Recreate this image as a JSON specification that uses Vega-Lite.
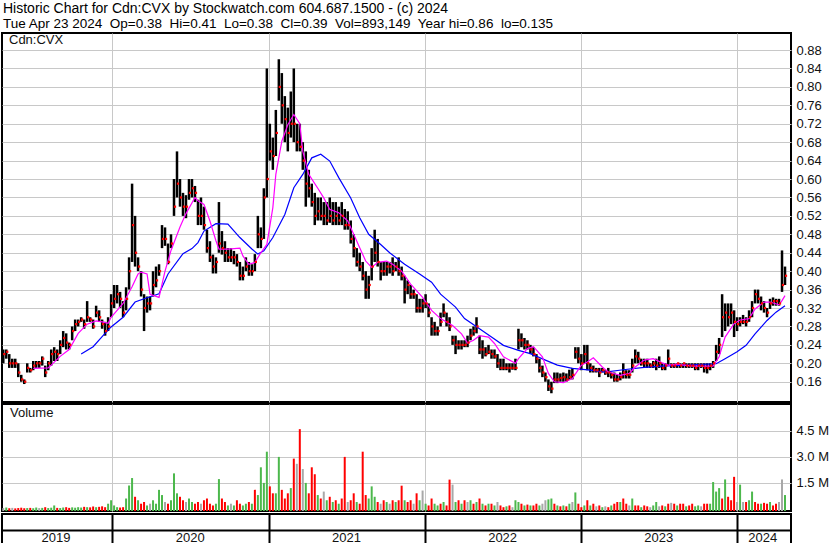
{
"$schema":"https://vega.github.io/schema/vega-lite/v6.json",
"padding":{"left":1,"top":1,"right":0,"bottom":0},
"background":"white",
"title":{"text":"Historic Chart for Cdn:CVX by Stockwatch.com 604.687.1500 - (c) 2024","subtitle":"Tue Apr 23 2024\u00a0 Op=0.38\u00a0 Hi=0.41\u00a0 Lo=0.38\u00a0 Cl=0.39\u00a0 Vol=893,149\u00a0 Year hi=0.86\u00a0 lo=0.135","anchor":"start","dx":2,"offset":2},
"spacing":0,
"datasets":{
"px":[
{"d":"2019-04-22","l":0.2,"h":0.23,"c":0.22,"v":0.05,"k":"n"},
{"d":"2019-04-29","l":0.21,"h":0.23,"c":0.225,"v":0.08,"k":"g"},
{"d":"2019-05-06","l":0.19,"h":0.22,"c":0.2,"v":0.04,"k":"r"},
{"d":"2019-05-13","l":0.19,"h":0.21,"c":0.2,"v":0.06,"k":"n"},
{"d":"2019-05-20","l":0.19,"h":0.21,"c":0.2,"v":0.03,"k":"r"},
{"d":"2019-05-27","l":0.17,"h":0.2,"c":0.18,"v":0.05,"k":"r"},
{"d":"2019-06-03","l":0.16,"h":0.175,"c":0.165,"v":0.07,"k":"r"},
{"d":"2019-06-10","l":0.155,"h":0.165,"c":0.16,"v":0.04,"k":"r"},
{"d":"2019-06-17","l":0.18,"h":0.2,"c":0.19,"v":0.05,"k":"g"},
{"d":"2019-06-24","l":0.18,"h":0.19,"c":0.185,"v":0.06,"k":"r"},
{"d":"2019-07-01","l":0.185,"h":0.205,"c":0.195,"v":0.04,"k":"g"},
{"d":"2019-07-08","l":0.19,"h":0.205,"c":0.2,"v":0.08,"k":"g"},
{"d":"2019-07-15","l":0.19,"h":0.205,"c":0.2,"v":0.05,"k":"n"},
{"d":"2019-07-22","l":0.195,"h":0.215,"c":0.21,"v":0.06,"k":"g"},
{"d":"2019-07-29","l":0.17,"h":0.195,"c":0.18,"v":0.1,"k":"r"},
{"d":"2019-08-05","l":0.185,"h":0.205,"c":0.2,"v":0.05,"k":"g"},
{"d":"2019-08-12","l":0.195,"h":0.23,"c":0.22,"v":0.07,"k":"g"},
{"d":"2019-08-19","l":0.205,"h":0.235,"c":0.225,"v":0.2,"k":"g"},
{"d":"2019-08-26","l":0.205,"h":0.23,"c":0.22,"v":0.06,"k":"r"},
{"d":"2019-09-02","l":0.22,"h":0.25,"c":0.24,"v":0.05,"k":"g"},
{"d":"2019-09-09","l":0.235,"h":0.27,"c":0.255,"v":0.08,"k":"g"},
{"d":"2019-09-16","l":0.23,"h":0.265,"c":0.245,"v":0.1,"k":"r"},
{"d":"2019-09-23","l":0.23,"h":0.245,"c":0.24,"v":0.06,"k":"r"},
{"d":"2019-09-30","l":0.25,"h":0.28,"c":0.27,"v":0.09,"k":"g"},
{"d":"2019-10-07","l":0.27,"h":0.295,"c":0.285,"v":0.07,"k":"g"},
{"d":"2019-10-14","l":0.28,"h":0.295,"c":0.29,"v":0.1,"k":"g"},
{"d":"2019-10-21","l":0.29,"h":0.3,"c":0.295,"v":0.08,"k":"g"},
{"d":"2019-10-28","l":0.275,"h":0.295,"c":0.285,"v":0.12,"k":"r"},
{"d":"2019-11-04","l":0.29,"h":0.335,"c":0.3,"v":0.1,"k":"g"},
{"d":"2019-11-11","l":0.29,"h":0.3,"c":0.295,"v":0.09,"k":"r"},
{"d":"2019-11-18","l":0.275,"h":0.295,"c":0.28,"v":0.14,"k":"r"},
{"d":"2019-11-25","l":0.3,"h":0.325,"c":0.31,"v":0.1,"k":"g"},
{"d":"2019-12-02","l":0.29,"h":0.315,"c":0.3,"v":0.12,"k":"r"},
{"d":"2019-12-09","l":0.275,"h":0.295,"c":0.285,"v":0.15,"k":"r"},
{"d":"2019-12-16","l":0.26,"h":0.29,"c":0.27,"v":0.1,"k":"r"},
{"d":"2019-12-23","l":0.27,"h":0.3,"c":0.28,"v":0.3,"k":"g"},
{"d":"2019-12-30","l":0.3,"h":0.35,"c":0.33,"v":0.5,"k":"g"},
{"d":"2020-01-06","l":0.32,"h":0.37,"c":0.34,"v":0.2,"k":"g"},
{"d":"2020-01-13","l":0.33,"h":0.37,"c":0.35,"v":0.1,"k":"g"},
{"d":"2020-01-20","l":0.32,"h":0.355,"c":0.34,"v":0.08,"k":"r"},
{"d":"2020-01-27","l":0.3,"h":0.335,"c":0.31,"v":0.1,"k":"r"},
{"d":"2020-02-03","l":0.315,"h":0.365,"c":0.34,"v":0.6,"k":"g"},
{"d":"2020-02-10","l":0.36,"h":0.43,"c":0.4,"v":1.35,"k":"g"},
{"d":"2020-02-17","l":0.42,"h":0.59,"c":0.5,"v":1.78,"k":"g"},
{"d":"2020-02-24","l":0.41,"h":0.52,"c":0.44,"v":0.7,"k":"r"},
{"d":"2020-03-02","l":0.4,"h":0.43,"c":0.41,"v":0.5,"k":"g"},
{"d":"2020-03-09","l":0.345,"h":0.4,"c":0.36,"v":0.3,"k":"r"},
{"d":"2020-03-16","l":0.27,"h":0.35,"c":0.32,"v":0.4,"k":"r"},
{"d":"2020-03-23","l":0.31,"h":0.345,"c":0.33,"v":0.2,"k":"g"},
{"d":"2020-03-30","l":0.315,"h":0.345,"c":0.33,"v":0.3,"k":"n"},
{"d":"2020-04-06","l":0.345,"h":0.4,"c":0.37,"v":0.5,"k":"g"},
{"d":"2020-04-13","l":0.365,"h":0.41,"c":0.38,"v":0.3,"k":"g"},
{"d":"2020-04-20","l":0.39,"h":0.415,"c":0.4,"v":1.1,"k":"g"},
{"d":"2020-04-27","l":0.45,"h":0.5,"c":0.47,"v":0.8,"k":"g"},
{"d":"2020-05-04","l":0.455,"h":0.495,"c":0.47,"v":0.4,"k":"n"},
{"d":"2020-05-11","l":0.415,"h":0.46,"c":0.42,"v":0.3,"k":"r"},
{"d":"2020-05-18","l":0.45,"h":0.48,"c":0.46,"v":0.5,"k":"g"},
{"d":"2020-05-25","l":0.52,"h":0.6,"c":0.54,"v":2.05,"k":"g"},
{"d":"2020-06-01","l":0.56,"h":0.66,"c":0.59,"v":0.9,"k":"g"},
{"d":"2020-06-08","l":0.54,"h":0.6,"c":0.56,"v":0.7,"k":"r"},
{"d":"2020-06-15","l":0.52,"h":0.57,"c":0.54,"v":0.5,"k":"r"},
{"d":"2020-06-22","l":0.515,"h":0.565,"c":0.54,"v":0.4,"k":"n"},
{"d":"2020-06-29","l":0.555,"h":0.6,"c":0.57,"v":0.6,"k":"g"},
{"d":"2020-07-06","l":0.56,"h":0.6,"c":0.58,"v":0.4,"k":"g"},
{"d":"2020-07-13","l":0.55,"h":0.585,"c":0.57,"v":0.3,"k":"r"},
{"d":"2020-07-20","l":0.5,"h":0.555,"c":0.52,"v":0.4,"k":"r"},
{"d":"2020-07-27","l":0.5,"h":0.56,"c":0.52,"v":0.3,"k":"n"},
{"d":"2020-08-03","l":0.49,"h":0.54,"c":0.5,"v":0.5,"k":"r"},
{"d":"2020-08-10","l":0.44,"h":0.49,"c":0.45,"v":0.6,"k":"r"},
{"d":"2020-08-17","l":0.42,"h":0.465,"c":0.43,"v":0.3,"k":"r"},
{"d":"2020-08-24","l":0.395,"h":0.436,"c":0.41,"v":0.2,"k":"r"},
{"d":"2020-08-31","l":0.395,"h":0.43,"c":0.42,"v":0.3,"k":"g"},
{"d":"2020-09-07","l":0.44,"h":0.55,"c":0.46,"v":1.72,"k":"g"},
{"d":"2020-09-14","l":0.436,"h":0.487,"c":0.45,"v":0.6,"k":"r"},
{"d":"2020-09-21","l":0.42,"h":0.465,"c":0.44,"v":0.4,"k":"r"},
{"d":"2020-09-28","l":0.42,"h":0.45,"c":0.43,"v":0.2,"k":"g"},
{"d":"2020-10-05","l":0.42,"h":0.45,"c":0.43,"v":0.3,"k":"n"},
{"d":"2020-10-12","l":0.415,"h":0.444,"c":0.43,"v":0.2,"k":"g"},
{"d":"2020-10-19","l":0.41,"h":0.437,"c":0.42,"v":0.5,"k":"r"},
{"d":"2020-10-26","l":0.38,"h":0.42,"c":0.39,"v":0.3,"k":"r"},
{"d":"2020-11-02","l":0.38,"h":0.41,"c":0.39,"v":0.2,"k":"g"},
{"d":"2020-11-09","l":0.4,"h":0.43,"c":0.41,"v":0.3,"k":"g"},
{"d":"2020-11-16","l":0.39,"h":0.42,"c":0.4,"v":0.4,"k":"r"},
{"d":"2020-11-23","l":0.39,"h":0.415,"c":0.4,"v":0.3,"k":"g"},
{"d":"2020-11-30","l":0.4,"h":0.437,"c":0.42,"v":1.1,"k":"r"},
{"d":"2020-12-07","l":0.45,"h":0.52,"c":0.48,"v":0.8,"k":"g"},
{"d":"2020-12-14","l":0.45,"h":0.495,"c":0.47,"v":2.4,"k":"g"},
{"d":"2020-12-21","l":0.47,"h":0.58,"c":0.56,"v":1.5,"k":"g"},
{"d":"2020-12-28","l":0.56,"h":0.84,"c":0.6,"v":3.3,"k":"g"},
{"d":"2021-01-04","l":0.64,"h":0.72,"c":0.66,"v":1.3,"k":"r"},
{"d":"2021-01-11","l":0.62,"h":0.69,"c":0.65,"v":0.9,"k":"r"},
{"d":"2021-01-18","l":0.65,"h":0.75,"c":0.7,"v":0.9,"k":"g"},
{"d":"2021-01-25","l":0.77,"h":0.86,"c":0.8,"v":3.0,"k":"g"},
{"d":"2021-02-01","l":0.72,"h":0.83,"c":0.76,"v":1.1,"k":"r"},
{"d":"2021-02-08","l":0.68,"h":0.78,"c":0.73,"v":0.6,"k":"r"},
{"d":"2021-02-15","l":0.66,"h":0.755,"c":0.7,"v":0.9,"k":"r"},
{"d":"2021-02-22","l":0.69,"h":0.79,"c":0.72,"v":1.2,"k":"g"},
{"d":"2021-03-01","l":0.68,"h":0.84,"c":0.72,"v":2.9,"k":"r"},
{"d":"2021-03-08","l":0.66,"h":0.72,"c":0.68,"v":2.6,"k":"n"},
{"d":"2021-03-15","l":0.66,"h":0.72,"c":0.67,"v":4.6,"k":"r"},
{"d":"2021-03-22","l":0.62,"h":0.68,"c":0.64,"v":2.3,"k":"n"},
{"d":"2021-03-29","l":0.54,"h":0.66,"c":0.59,"v":1.5,"k":"g"},
{"d":"2021-04-05","l":0.56,"h":0.62,"c":0.58,"v":0.9,"k":"r"},
{"d":"2021-04-12","l":0.54,"h":0.59,"c":0.55,"v":2.4,"k":"r"},
{"d":"2021-04-19","l":0.5,"h":0.57,"c":0.52,"v":2.0,"k":"r"},
{"d":"2021-04-26","l":0.51,"h":0.56,"c":0.53,"v":0.8,"k":"g"},
{"d":"2021-05-03","l":0.51,"h":0.56,"c":0.52,"v":0.6,"k":"r"},
{"d":"2021-05-10","l":0.5,"h":0.55,"c":0.52,"v":1.0,"k":"n"},
{"d":"2021-05-17","l":0.5,"h":0.55,"c":0.51,"v":0.5,"k":"g"},
{"d":"2021-05-24","l":0.505,"h":0.56,"c":0.52,"v":0.7,"k":"r"},
{"d":"2021-05-31","l":0.5,"h":0.55,"c":0.51,"v":0.4,"k":"g"},
{"d":"2021-06-07","l":0.5,"h":0.55,"c":0.52,"v":0.5,"k":"r"},
{"d":"2021-06-14","l":0.5,"h":0.54,"c":0.51,"v":0.3,"k":"g"},
{"d":"2021-06-21","l":0.5,"h":0.55,"c":0.52,"v":0.6,"k":"r"},
{"d":"2021-06-28","l":0.49,"h":0.535,"c":0.5,"v":3.0,"k":"r"},
{"d":"2021-07-05","l":0.49,"h":0.53,"c":0.5,"v":0.4,"k":"n"},
{"d":"2021-07-12","l":0.46,"h":0.51,"c":0.47,"v":0.5,"k":"r"},
{"d":"2021-07-19","l":0.43,"h":0.48,"c":0.45,"v":0.9,"k":"r"},
{"d":"2021-07-26","l":0.41,"h":0.45,"c":0.42,"v":0.4,"k":"g"},
{"d":"2021-08-02","l":0.4,"h":0.44,"c":0.41,"v":0.3,"k":"r"},
{"d":"2021-08-09","l":0.38,"h":0.42,"c":0.39,"v":3.3,"k":"r"},
{"d":"2021-08-16","l":0.34,"h":0.4,"c":0.36,"v":0.8,"k":"r"},
{"d":"2021-08-23","l":0.34,"h":0.39,"c":0.37,"v":0.6,"k":"g"},
{"d":"2021-08-30","l":0.38,"h":0.45,"c":0.41,"v":1.3,"k":"g"},
{"d":"2021-09-06","l":0.42,"h":0.49,"c":0.44,"v":0.7,"k":"g"},
{"d":"2021-09-13","l":0.41,"h":0.47,"c":0.42,"v":0.4,"k":"r"},
{"d":"2021-09-20","l":0.38,"h":0.42,"c":0.4,"v":0.3,"k":"n"},
{"d":"2021-09-27","l":0.39,"h":0.42,"c":0.4,"v":0.5,"k":"r"},
{"d":"2021-10-04","l":0.39,"h":0.42,"c":0.41,"v":0.4,"k":"g"},
{"d":"2021-10-11","l":0.395,"h":0.42,"c":0.41,"v":0.3,"k":"n"},
{"d":"2021-10-18","l":0.39,"h":0.43,"c":0.4,"v":0.5,"k":"r"},
{"d":"2021-10-25","l":0.4,"h":0.42,"c":0.41,"v":0.4,"k":"g"},
{"d":"2021-11-01","l":0.39,"h":0.43,"c":0.4,"v":0.5,"k":"r"},
{"d":"2021-11-08","l":0.38,"h":0.41,"c":0.39,"v":1.34,"k":"r"},
{"d":"2021-11-15","l":0.33,"h":0.39,"c":0.36,"v":0.5,"k":"g"},
{"d":"2021-11-22","l":0.35,"h":0.38,"c":0.37,"v":0.4,"k":"r"},
{"d":"2021-11-29","l":0.34,"h":0.37,"c":0.35,"v":0.5,"k":"r"},
{"d":"2021-12-06","l":0.34,"h":0.36,"c":0.35,"v":0.3,"k":"n"},
{"d":"2021-12-13","l":0.31,"h":0.35,"c":0.32,"v":0.9,"k":"r"},
{"d":"2021-12-20","l":0.31,"h":0.34,"c":0.32,"v":0.5,"k":"g"},
{"d":"2021-12-27","l":0.31,"h":0.34,"c":0.33,"v":1.06,"k":"n"},
{"d":"2022-01-03","l":0.32,"h":0.35,"c":0.33,"v":0.3,"k":"g"},
{"d":"2022-01-10","l":0.3,"h":0.33,"c":0.31,"v":0.2,"k":"r"},
{"d":"2022-01-17","l":0.26,"h":0.3,"c":0.28,"v":0.6,"k":"r"},
{"d":"2022-01-24","l":0.26,"h":0.29,"c":0.27,"v":0.3,"k":"g"},
{"d":"2022-01-31","l":0.26,"h":0.28,"c":0.27,"v":0.2,"k":"g"},
{"d":"2022-02-07","l":0.28,"h":0.31,"c":0.29,"v":0.3,"k":"r"},
{"d":"2022-02-14","l":0.3,"h":0.33,"c":0.31,"v":0.4,"k":"g"},
{"d":"2022-02-21","l":0.28,"h":0.31,"c":0.29,"v":0.2,"k":"r"},
{"d":"2022-02-28","l":0.27,"h":0.3,"c":0.28,"v":1.69,"k":"r"},
{"d":"2022-03-07","l":0.24,"h":0.26,"c":0.25,"v":1.4,"k":"n"},
{"d":"2022-03-14","l":0.22,"h":0.26,"c":0.24,"v":0.4,"k":"g"},
{"d":"2022-03-21","l":0.23,"h":0.25,"c":0.24,"v":0.5,"k":"r"},
{"d":"2022-03-28","l":0.23,"h":0.25,"c":0.24,"v":0.3,"k":"g"},
{"d":"2022-04-04","l":0.235,"h":0.25,"c":0.24,"v":0.5,"k":"r"},
{"d":"2022-04-11","l":0.235,"h":0.26,"c":0.245,"v":0.4,"k":"n"},
{"d":"2022-04-18","l":0.25,"h":0.275,"c":0.26,"v":0.5,"k":"g"},
{"d":"2022-04-25","l":0.26,"h":0.28,"c":0.27,"v":0.3,"k":"r"},
{"d":"2022-05-02","l":0.265,"h":0.3,"c":0.28,"v":0.4,"k":"g"},
{"d":"2022-05-09","l":0.22,"h":0.26,"c":0.23,"v":0.6,"k":"r"},
{"d":"2022-05-16","l":0.21,"h":0.25,"c":0.23,"v":0.3,"k":"g"},
{"d":"2022-05-23","l":0.215,"h":0.235,"c":0.22,"v":0.2,"k":"r"},
{"d":"2022-05-30","l":0.22,"h":0.24,"c":0.225,"v":0.3,"k":"g"},
{"d":"2022-06-06","l":0.21,"h":0.23,"c":0.22,"v":0.3,"k":"r"},
{"d":"2022-06-13","l":0.21,"h":0.23,"c":0.215,"v":0.2,"k":"g"},
{"d":"2022-06-20","l":0.19,"h":0.22,"c":0.2,"v":0.4,"k":"n"},
{"d":"2022-06-27","l":0.185,"h":0.21,"c":0.19,"v":0.2,"k":"r"},
{"d":"2022-07-04","l":0.185,"h":0.21,"c":0.19,"v":0.1,"k":"r"},
{"d":"2022-07-11","l":0.185,"h":0.2,"c":0.19,"v":0.15,"k":"g"},
{"d":"2022-07-18","l":0.18,"h":0.2,"c":0.19,"v":0.2,"k":"r"},
{"d":"2022-07-25","l":0.186,"h":0.2,"c":0.19,"v":0.1,"k":"n"},
{"d":"2022-08-01","l":0.185,"h":0.21,"c":0.19,"v":0.5,"k":"g"},
{"d":"2022-08-08","l":0.23,"h":0.275,"c":0.25,"v":0.4,"k":"g"},
{"d":"2022-08-15","l":0.235,"h":0.265,"c":0.25,"v":0.3,"k":"r"},
{"d":"2022-08-22","l":0.23,"h":0.255,"c":0.24,"v":0.2,"k":"g"},
{"d":"2022-08-29","l":0.23,"h":0.25,"c":0.24,"v":0.25,"k":"r"},
{"d":"2022-09-05","l":0.22,"h":0.24,"c":0.23,"v":0.2,"k":"g"},
{"d":"2022-09-12","l":0.215,"h":0.235,"c":0.22,"v":0.2,"k":"r"},
{"d":"2022-09-19","l":0.2,"h":0.22,"c":0.21,"v":0.3,"k":"r"},
{"d":"2022-09-26","l":0.18,"h":0.21,"c":0.19,"v":0.2,"k":"g"},
{"d":"2022-10-03","l":0.17,"h":0.195,"c":0.18,"v":0.3,"k":"n"},
{"d":"2022-10-10","l":0.16,"h":0.18,"c":0.17,"v":0.5,"k":"n"},
{"d":"2022-10-17","l":0.14,"h":0.165,"c":0.15,"v":0.55,"k":"g"},
{"d":"2022-10-24","l":0.135,"h":0.16,"c":0.145,"v":0.6,"k":"g"},
{"d":"2022-10-31","l":0.157,"h":0.18,"c":0.165,"v":0.3,"k":"r"},
{"d":"2022-11-07","l":0.157,"h":0.18,"c":0.165,"v":0.2,"k":"g"},
{"d":"2022-11-14","l":0.16,"h":0.178,"c":0.168,"v":0.15,"k":"r"},
{"d":"2022-11-21","l":0.16,"h":0.18,"c":0.17,"v":0.2,"k":"g"},
{"d":"2022-11-28","l":0.16,"h":0.178,"c":0.165,"v":0.15,"k":"r"},
{"d":"2022-12-05","l":0.164,"h":0.186,"c":0.17,"v":0.3,"k":"g"},
{"d":"2022-12-12","l":0.165,"h":0.19,"c":0.175,"v":0.4,"k":"n"},
{"d":"2022-12-19","l":0.21,"h":0.235,"c":0.225,"v":0.95,"k":"g"},
{"d":"2022-12-26","l":0.2,"h":0.235,"c":0.21,"v":0.3,"k":"r"},
{"d":"2023-01-02","l":0.185,"h":0.22,"c":0.2,"v":0.1,"k":"r"},
{"d":"2023-01-09","l":0.2,"h":0.24,"c":0.22,"v":0.2,"k":"g"},
{"d":"2023-01-16","l":0.185,"h":0.24,"c":0.2,"v":0.5,"k":"r"},
{"d":"2023-01-23","l":0.18,"h":0.2,"c":0.19,"v":0.2,"k":"g"},
{"d":"2023-01-30","l":0.18,"h":0.195,"c":0.185,"v":0.3,"k":"r"},
{"d":"2023-02-06","l":0.18,"h":0.19,"c":0.185,"v":0.15,"k":"n"},
{"d":"2023-02-13","l":0.17,"h":0.19,"c":0.18,"v":0.2,"k":"r"},
{"d":"2023-02-20","l":0.18,"h":0.19,"c":0.185,"v":0.1,"k":"g"},
{"d":"2023-02-27","l":0.175,"h":0.185,"c":0.18,"v":0.15,"k":"n"},
{"d":"2023-03-06","l":0.17,"h":0.19,"c":0.18,"v":0.1,"k":"r"},
{"d":"2023-03-13","l":0.167,"h":0.18,"c":0.175,"v":0.2,"k":"g"},
{"d":"2023-03-20","l":0.16,"h":0.18,"c":0.165,"v":0.3,"k":"r"},
{"d":"2023-03-27","l":0.16,"h":0.175,"c":0.165,"v":0.4,"k":"r"},
{"d":"2023-04-03","l":0.163,"h":0.18,"c":0.17,"v":0.4,"k":"g"},
{"d":"2023-04-10","l":0.167,"h":0.2,"c":0.18,"v":0.6,"k":"r"},
{"d":"2023-04-17","l":0.167,"h":0.185,"c":0.175,"v":0.3,"k":"r"},
{"d":"2023-04-24","l":0.167,"h":0.185,"c":0.175,"v":0.2,"k":"n"},
{"d":"2023-05-01","l":0.18,"h":0.21,"c":0.195,"v":0.6,"k":"g"},
{"d":"2023-05-08","l":0.2,"h":0.23,"c":0.215,"v":0.2,"k":"r"},
{"d":"2023-05-15","l":0.2,"h":0.225,"c":0.21,"v":0.2,"k":"r"},
{"d":"2023-05-22","l":0.195,"h":0.21,"c":0.2,"v":0.1,"k":"g"},
{"d":"2023-05-29","l":0.19,"h":0.21,"c":0.2,"v":0.2,"k":"r"},
{"d":"2023-06-05","l":0.19,"h":0.21,"c":0.2,"v":0.15,"k":"r"},
{"d":"2023-06-12","l":0.19,"h":0.2,"c":0.195,"v":0.1,"k":"n"},
{"d":"2023-06-19","l":0.19,"h":0.205,"c":0.2,"v":0.2,"k":"g"},
{"d":"2023-06-26","l":0.185,"h":0.21,"c":0.195,"v":0.4,"k":"g"},
{"d":"2023-07-03","l":0.19,"h":0.215,"c":0.2,"v":0.15,"k":"n"},
{"d":"2023-07-10","l":0.185,"h":0.2,"c":0.19,"v":0.2,"k":"r"},
{"d":"2023-07-17","l":0.185,"h":0.2,"c":0.195,"v":0.15,"k":"g"},
{"d":"2023-07-24","l":0.196,"h":0.23,"c":0.21,"v":0.3,"k":"r"},
{"d":"2023-07-31","l":0.19,"h":0.2,"c":0.195,"v":0.35,"k":"n"},
{"d":"2023-08-07","l":0.19,"h":0.2,"c":0.195,"v":0.3,"k":"r"},
{"d":"2023-08-14","l":0.19,"h":0.2,"c":0.2,"v":0.2,"k":"g"},
{"d":"2023-08-21","l":0.19,"h":0.2,"c":0.195,"v":0.3,"k":"r"},
{"d":"2023-08-28","l":0.19,"h":0.2,"c":0.2,"v":0.3,"k":"r"},
{"d":"2023-09-04","l":0.19,"h":0.2,"c":0.195,"v":0.15,"k":"g"},
{"d":"2023-09-11","l":0.19,"h":0.2,"c":0.195,"v":0.2,"k":"r"},
{"d":"2023-09-18","l":0.19,"h":0.2,"c":0.195,"v":0.3,"k":"r"},
{"d":"2023-09-25","l":0.185,"h":0.2,"c":0.19,"v":0.15,"k":"g"},
{"d":"2023-10-02","l":0.185,"h":0.2,"c":0.195,"v":0.2,"k":"g"},
{"d":"2023-10-09","l":0.19,"h":0.2,"c":0.195,"v":0.15,"k":"n"},
{"d":"2023-10-16","l":0.18,"h":0.2,"c":0.19,"v":0.3,"k":"r"},
{"d":"2023-10-23","l":0.178,"h":0.2,"c":0.19,"v":0.3,"k":"r"},
{"d":"2023-10-30","l":0.185,"h":0.2,"c":0.195,"v":0.3,"k":"g"},
{"d":"2023-11-06","l":0.19,"h":0.205,"c":0.2,"v":1.55,"k":"g"},
{"d":"2023-11-13","l":0.205,"h":0.24,"c":0.225,"v":1.0,"k":"g"},
{"d":"2023-11-20","l":0.22,"h":0.255,"c":0.24,"v":1.2,"k":"g"},
{"d":"2023-11-27","l":0.257,"h":0.35,"c":0.3,"v":0.6,"k":"r"},
{"d":"2023-12-04","l":0.27,"h":0.33,"c":0.31,"v":1.7,"k":"g"},
{"d":"2023-12-11","l":0.28,"h":0.33,"c":0.3,"v":0.7,"k":"r"},
{"d":"2023-12-18","l":0.285,"h":0.33,"c":0.31,"v":0.5,"k":"r"},
{"d":"2023-12-25","l":0.257,"h":0.315,"c":0.29,"v":1.85,"k":"r"},
{"d":"2024-01-01","l":0.27,"h":0.3,"c":0.285,"v":0.4,"k":"n"},
{"d":"2024-01-08","l":0.28,"h":0.3,"c":0.29,"v":1.4,"k":"g"},
{"d":"2024-01-15","l":0.285,"h":0.305,"c":0.29,"v":0.4,"k":"n"},
{"d":"2024-01-22","l":0.28,"h":0.3,"c":0.29,"v":0.4,"k":"r"},
{"d":"2024-01-29","l":0.29,"h":0.315,"c":0.3,"v":0.5,"k":"g"},
{"d":"2024-02-05","l":0.3,"h":0.335,"c":0.32,"v":1.0,"k":"g"},
{"d":"2024-02-12","l":0.33,"h":0.36,"c":0.35,"v":0.4,"k":"r"},
{"d":"2024-02-19","l":0.33,"h":0.36,"c":0.34,"v":0.3,"k":"r"},
{"d":"2024-02-26","l":0.315,"h":0.345,"c":0.33,"v":0.3,"k":"g"},
{"d":"2024-03-04","l":0.31,"h":0.335,"c":0.32,"v":0.35,"k":"r"},
{"d":"2024-03-11","l":0.3,"h":0.32,"c":0.31,"v":0.3,"k":"r"},
{"d":"2024-03-18","l":0.318,"h":0.34,"c":0.33,"v":0.4,"k":"g"},
{"d":"2024-03-25","l":0.325,"h":0.343,"c":0.335,"v":0.2,"k":"r"},
{"d":"2024-04-01","l":0.325,"h":0.34,"c":0.335,"v":0.3,"k":"r"},
{"d":"2024-04-08","l":0.325,"h":0.34,"c":0.33,"v":0.4,"k":"n"},
{"d":"2024-04-15","l":0.355,"h":0.445,"c":0.37,"v":1.7,"k":"n"},
{"d":"2024-04-22","l":0.37,"h":0.41,"c":0.39,"v":0.8,"k":"g"}
],
"m1":[
{"d":"2019-07-01","p":0.189},{"d":"2019-08-05","p":0.19},{"d":"2019-08-12","p":0.196},{"d":"2019-09-02","p":0.215},{"d":"2019-09-23","p":0.23},{"d":"2019-10-14","p":0.265},{"d":"2019-11-04","p":0.285},{"d":"2019-11-25","p":0.292},{"d":"2019-12-09","p":0.29},{"d":"2019-12-23","p":0.287},{"d":"2019-12-30","p":0.3},
{"d":"2020-01-27","p":0.33},{"d":"2020-02-17","p":0.366},{"d":"2020-03-02","p":0.394},{"d":"2020-03-09","p":0.398},{"d":"2020-03-23","p":0.394},{"d":"2020-03-30","p":0.35},{"d":"2020-04-20","p":0.343},{"d":"2020-05-04","p":0.4},{"d":"2020-05-18","p":0.445},{"d":"2020-06-08","p":0.496},{"d":"2020-06-22","p":0.525},{"d":"2020-07-13","p":0.56},{"d":"2020-07-20","p":0.553},{"d":"2020-08-03","p":0.545},{"d":"2020-08-17","p":0.509},{"d":"2020-08-31","p":0.466},{"d":"2020-09-07","p":0.448},{"d":"2020-09-28","p":0.448},{"d":"2020-10-26","p":0.45},{"d":"2020-11-02","p":0.433},{"d":"2020-11-16","p":0.415},{"d":"2020-11-30","p":0.419},{"d":"2020-12-14","p":0.44},{"d":"2020-12-28","p":0.458},
{"d":"2021-01-11","p":0.538},{"d":"2021-01-18","p":0.61},{"d":"2021-02-01","p":0.682},{"d":"2021-02-15","p":0.718},{"d":"2021-03-01","p":0.74},{"d":"2021-03-15","p":0.72},{"d":"2021-03-22","p":0.66},{"d":"2021-04-05","p":0.61},{"d":"2021-04-26","p":0.58},{"d":"2021-05-10","p":0.559},{"d":"2021-05-24","p":0.534},{"d":"2021-06-14","p":0.527},{"d":"2021-07-05","p":0.509},{"d":"2021-07-19","p":0.48},{"d":"2021-08-02","p":0.451},{"d":"2021-08-16","p":0.422},{"d":"2021-08-30","p":0.408},{"d":"2021-09-13","p":0.419},{"d":"2021-10-04","p":0.422},{"d":"2021-10-18","p":0.415},{"d":"2021-11-08","p":0.4},{"d":"2021-11-29","p":0.372},{"d":"2021-12-27","p":0.343},
{"d":"2022-01-17","p":0.315},{"d":"2022-02-07","p":0.297},{"d":"2022-03-07","p":0.282},{"d":"2022-03-28","p":0.264},{"d":"2022-04-11","p":0.244},{"d":"2022-04-25","p":0.25},{"d":"2022-05-09","p":0.26},{"d":"2022-05-30","p":0.257},{"d":"2022-06-13","p":0.243},{"d":"2022-07-04","p":0.214},{"d":"2022-08-01","p":0.2},{"d":"2022-08-08","p":0.21},{"d":"2022-08-29","p":0.232},{"d":"2022-09-12","p":0.236},{"d":"2022-10-03","p":0.214},{"d":"2022-10-17","p":0.178},{"d":"2022-10-31","p":0.16},{"d":"2022-11-21","p":0.158},{"d":"2022-12-12","p":0.167},
{"d":"2023-01-02","p":0.196},{"d":"2023-01-16","p":0.203},{"d":"2023-01-30","p":0.212},{"d":"2023-02-20","p":0.192},{"d":"2023-03-06","p":0.181},{"d":"2023-04-03","p":0.174},{"d":"2023-04-24","p":0.178},{"d":"2023-05-08","p":0.192},{"d":"2023-05-29","p":0.207},{"d":"2023-06-19","p":0.21},{"d":"2023-07-10","p":0.201},{"d":"2023-07-24","p":0.196},{"d":"2023-08-14","p":0.198},{"d":"2023-09-18","p":0.194},{"d":"2023-11-06","p":0.194},{"d":"2023-11-20","p":0.214},{"d":"2023-12-04","p":0.257},{"d":"2023-12-25","p":0.286},
{"d":"2024-01-08","p":0.294},{"d":"2024-01-29","p":0.297},{"d":"2024-02-12","p":0.318},{"d":"2024-03-04","p":0.333},{"d":"2024-03-18","p":0.333},{"d":"2024-04-08","p":0.327},{"d":"2024-04-15","p":0.336},{"d":"2024-04-22","p":0.347}
],
"m2":[
{"d":"2019-10-21","p":0.22},{"d":"2019-11-18","p":0.236},{"d":"2019-12-09","p":0.258},{"d":"2019-12-30","p":0.279},
{"d":"2020-01-27","p":0.3},{"d":"2020-02-24","p":0.333},{"d":"2020-03-16","p":0.34},{"d":"2020-04-20","p":0.351},{"d":"2020-05-11","p":0.394},{"d":"2020-06-15","p":0.438},{"d":"2020-07-06","p":0.449},{"d":"2020-07-20","p":0.462},{"d":"2020-08-03","p":0.487},{"d":"2020-08-31","p":0.503},{"d":"2020-09-28","p":0.502},{"d":"2020-10-26","p":0.473},{"d":"2020-11-23","p":0.448},{"d":"2020-12-07","p":0.437},{"d":"2020-12-21","p":0.444},
{"d":"2021-01-11","p":0.473},{"d":"2021-02-08","p":0.523},{"d":"2021-03-01","p":0.581},{"d":"2021-03-22","p":0.61},{"d":"2021-04-12","p":0.646},{"d":"2021-05-03","p":0.654},{"d":"2021-05-24","p":0.639},{"d":"2021-06-14","p":0.603},{"d":"2021-07-12","p":0.559},{"d":"2021-08-02","p":0.516},{"d":"2021-08-23","p":0.48},{"d":"2021-09-20","p":0.458},{"d":"2021-10-11","p":0.44},{"d":"2021-11-15","p":0.415},{"d":"2021-12-20","p":0.394},
{"d":"2022-01-17","p":0.376},{"d":"2022-02-07","p":0.35},{"d":"2022-03-14","p":0.322},{"d":"2022-04-04","p":0.297},{"d":"2022-05-09","p":0.275},{"d":"2022-06-06","p":0.257},{"d":"2022-07-04","p":0.239},{"d":"2022-08-08","p":0.228},{"d":"2022-09-05","p":0.221},{"d":"2022-10-10","p":0.207},{"d":"2022-11-07","p":0.196},{"d":"2022-12-12","p":0.189},
{"d":"2023-01-23","p":0.185},{"d":"2023-02-27","p":0.181},{"d":"2023-04-10","p":0.186},{"d":"2023-05-29","p":0.191},{"d":"2023-07-10","p":0.194},{"d":"2023-09-04","p":0.196},{"d":"2023-11-13","p":0.199},{"d":"2023-12-04","p":0.21},
{"d":"2024-01-01","p":0.225},{"d":"2024-01-22","p":0.239},{"d":"2024-02-12","p":0.264},{"d":"2024-03-11","p":0.293},{"d":"2024-04-01","p":0.311},{"d":"2024-04-22","p":0.325}
],
"yrs":[
{"yr":"2019","d":"2019-08-23"},{"yr":"2020","d":"2020-07-02"},{"yr":"2021","d":"2021-07-02"},{"yr":"2022","d":"2022-07-02"},{"yr":"2023","d":"2023-07-02"},{"yr":"2024","d":"2024-03-01"}
]
},
"vconcat":[
{
"width":789,"height":369,
"title":{"text":"Cdn:CVX","anchor":"start","offset":-14,"dx":7,"fontSize":13,"fontWeight":"normal","color":"#111"},
"encoding":{"x":{"field":"d","type":"temporal","title":null,"scale":{"domain":[{"year":2019,"month":4,"date":19,"utc":true},{"year":2024,"month":5,"date":6,"utc":true}]},"axis":{"values":[{"year":2020,"month":1,"date":1,"utc":true},{"year":2021,"month":1,"date":1,"utc":true},{"year":2022,"month":1,"date":1,"utc":true},{"year":2023,"month":1,"date":1,"utc":true},{"year":2024,"month":1,"date":1,"utc":true}],"grid":true,"labels":false,"ticks":false,"domain":false,"title":null,"minExtent":0}}},
"layer":[
{"data":{"name":"px"},"mark":{"type":"rule","color":"black","strokeWidth":2.5},"encoding":{"y":{"field":"l","type":"quantitative","title":null,"scale":{"domain":[0.116,0.917],"zero":false,"nice":false},"axis":{"orient":"right","values":[0.16,0.2,0.24,0.28,0.32,0.36,0.4,0.44,0.48,0.52,0.56,0.6,0.64,0.68,0.72,0.76,0.8,0.84,0.88],"format":".2f","grid":true,"ticks":false,"domain":false,"labelPadding":5,"labelOverlap":false,"title":null}},"y2":{"field":"h"}}},
{"data":{"name":"m2"},"mark":{"type":"line","color":"#0000ff","strokeWidth":1.2},"encoding":{"y":{"field":"p","type":"quantitative","title":null,"scale":{"domain":[0.116,0.917],"zero":false,"nice":false},"axis":{"orient":"right","values":[0.16,0.2,0.24,0.28,0.32,0.36,0.4,0.44,0.48,0.52,0.56,0.6,0.64,0.68,0.72,0.76,0.8,0.84,0.88],"format":".2f","grid":true,"ticks":false,"domain":false,"labelPadding":5,"labelOverlap":false,"title":null}}}},
{"data":{"name":"m1"},"mark":{"type":"line","color":"#ff00ff","strokeWidth":1.2},"encoding":{"y":{"field":"p","type":"quantitative","title":null,"scale":{"domain":[0.116,0.917],"zero":false,"nice":false},"axis":{"orient":"right","values":[0.16,0.2,0.24,0.28,0.32,0.36,0.4,0.44,0.48,0.52,0.56,0.6,0.64,0.68,0.72,0.76,0.8,0.84,0.88],"format":".2f","grid":true,"ticks":false,"domain":false,"labelPadding":5,"labelOverlap":false,"title":null}}}},
{"data":{"name":"px"},"mark":{"type":"square","color":"#ff0000","size":5,"opacity":1,"filled":true,"xOffset":1},"encoding":{"y":{"field":"c","type":"quantitative","title":null,"scale":{"domain":[0.116,0.917],"zero":false,"nice":false},"axis":{"orient":"right","values":[0.16,0.2,0.24,0.28,0.32,0.36,0.4,0.44,0.48,0.52,0.56,0.6,0.64,0.68,0.72,0.76,0.8,0.84,0.88],"format":".2f","grid":true,"ticks":false,"domain":false,"labelPadding":5,"labelOverlap":false,"title":null}}}}
]
},
{
"width":789,"height":107,
"title":{"text":"Volume","anchor":"start","offset":-16,"dx":8,"fontSize":13,"fontWeight":"normal","color":"#111"},
"data":{"name":"px"},
"mark":{"type":"rule","strokeWidth":2},
"encoding":{
"x":{"field":"d","type":"temporal","title":null,"scale":{"domain":[{"year":2019,"month":4,"date":19,"utc":true},{"year":2024,"month":5,"date":6,"utc":true}]},"axis":{"values":[{"year":2020,"month":1,"date":1,"utc":true},{"year":2021,"month":1,"date":1,"utc":true},{"year":2022,"month":1,"date":1,"utc":true},{"year":2023,"month":1,"date":1,"utc":true},{"year":2024,"month":1,"date":1,"utc":true}],"grid":true,"labels":false,"ticks":false,"domain":false,"title":null,"minExtent":0}},
"y":{"field":"v","type":"quantitative","title":null,"scale":{"domain":[-0.12,6.05],"zero":false,"nice":false},"axis":{"orient":"right","values":[1.5,3,4.5],"labelExpr":"format(datum.value,'.1f') + ' M'","grid":true,"ticks":false,"domain":false,"labelPadding":5,"title":null}},
"y2":{"datum":-0.12},
"color":{"field":"k","type":"nominal","scale":{"domain":["g","r","n"],"range":["#4cb84c","#ff0000","#a8a8a8"]},"legend":null}
}
},
{
"width":789,"height":30,
"data":{"name":"yrs"},
"mark":{"type":"text","fontSize":13,"baseline":"middle","color":"#111"},
"encoding":{
"x":{"field":"d","type":"temporal","title":null,"scale":{"domain":[{"year":2019,"month":4,"date":19,"utc":true},{"year":2024,"month":5,"date":6,"utc":true}]},"axis":{"values":[{"year":2020,"month":1,"date":1,"utc":true},{"year":2021,"month":1,"date":1,"utc":true},{"year":2022,"month":1,"date":1,"utc":true},{"year":2023,"month":1,"date":1,"utc":true},{"year":2024,"month":1,"date":1,"utc":true}],"grid":true,"gridColor":"black","gridWidth":2,"labels":false,"ticks":false,"domain":false,"title":null,"minExtent":0}},
"y":{"datum":6.5,"type":"quantitative","scale":{"domain":[0,30],"nice":false},"axis":{"values":[14],"grid":true,"gridColor":"black","gridWidth":2,"labels":false,"ticks":false,"domain":false,"title":null,"minExtent":0}},
"text":{"field":"yr"}
}
}
],
"config":{
"font":"Liberation Sans",
"view":{"stroke":"black","strokeWidth":2},
"axis":{"labelFont":"Liberation Sans","labelFontSize":13,"labelColor":"#111","gridColor":"#c8c8c8","gridWidth":1,"gridOpacity":1},
"title":{"font":"Liberation Sans","fontSize":14,"fontWeight":"normal","color":"#000","subtitleFont":"Liberation Sans","subtitleFontSize":13.5,"subtitleColor":"#000","subtitlePadding":1},
"text":{"font":"Liberation Sans"}
}
}
